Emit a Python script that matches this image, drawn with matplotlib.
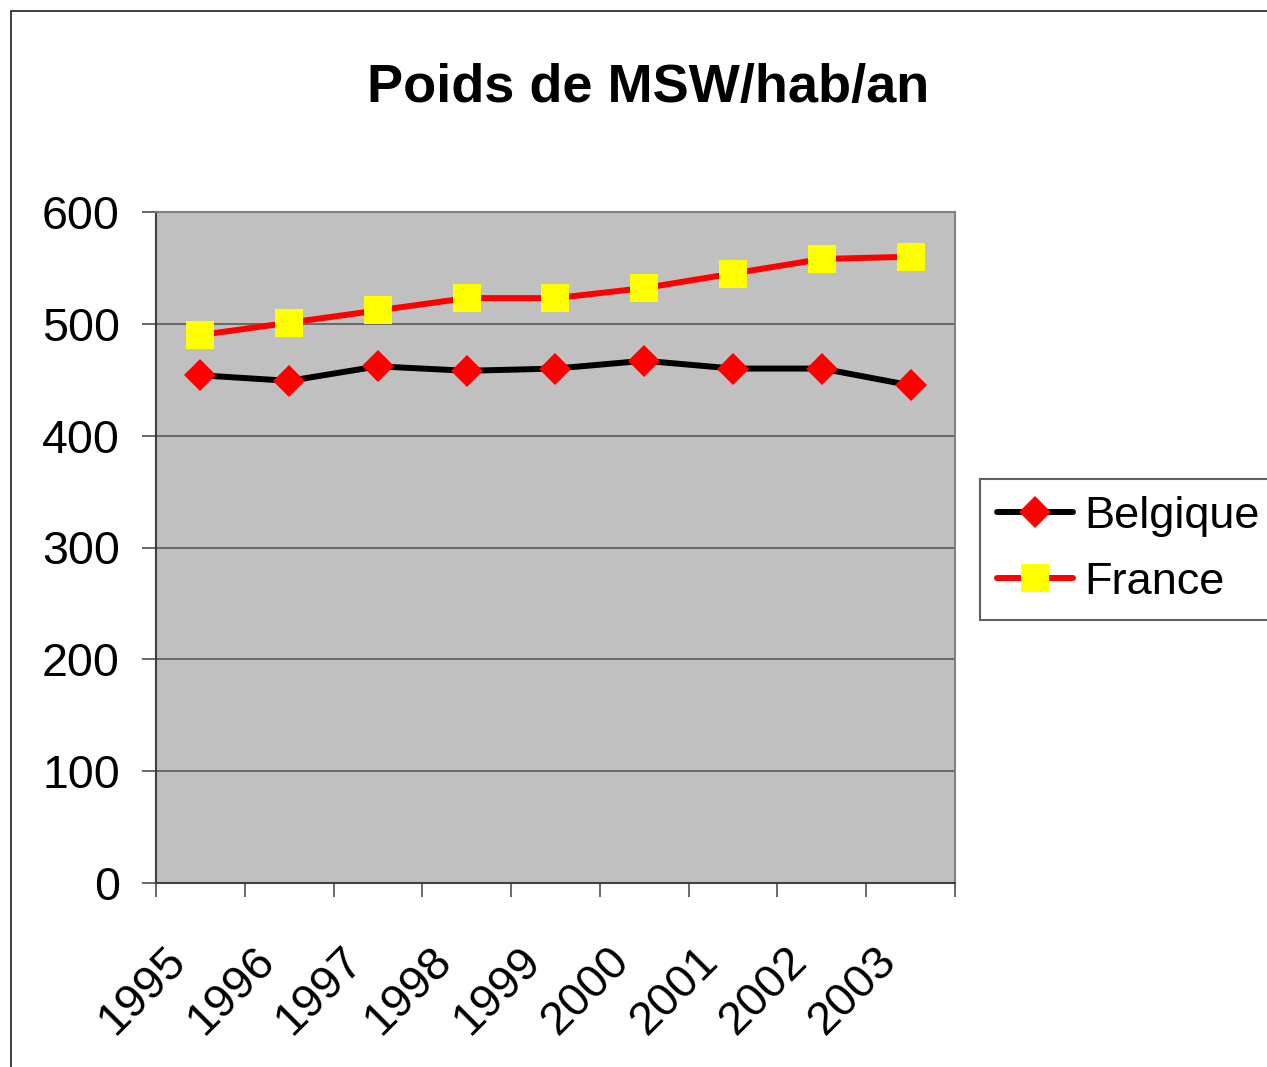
import matplotlib
matplotlib.use("Agg")
import matplotlib.pyplot as plt
import matplotlib.transforms as mtransforms
from matplotlib.patches import Rectangle
import numpy as np

years = ["1995", "1996", "1997", "1998", "1999", "2000", "2001", "2002", "2003"]
belgique = [454, 449, 462, 458, 460, 467, 460, 460, 445]
france = [490, 501, 512, 523, 523, 532, 545, 558, 560]
yticks = [0, 100, 200, 300, 400, 500, 600]
title = "Poids de MSW/hab/an"

plt.rcParams['font.family'] = ['Liberation Sans', 'DejaVu Sans']

W, H = 1267, 1067
fig = plt.figure(figsize=(W / 100, H / 100), dpi=100)
fig.patch.set_facecolor('white')

ax = fig.add_axes([156 / W, (H - 883) / H, (955 - 156) / W, (883 - 212) / H])
ax.set_facecolor('#C0C0C0')

x = np.arange(len(years)) + 0.5
ax.plot(x, belgique, color='black', lw=4.3, marker='D', ms=16.5,
        mfc='#FF0000', mec='#FF0000', mew=0, solid_capstyle='round',
        label='Belgique', zorder=3)
ax.plot(x, france, color='#FF0000', lw=4.3, marker='s', ms=20.5,
        mfc='#FFFF00', mec='#FFFF00', mew=0, solid_capstyle='round',
        label='France', zorder=3)

ax.set_xlim(0, len(years))
ax.set_ylim(0, 600)
ax.set_yticks(yticks)
ax.set_yticklabels([str(v) for v in yticks], fontsize=33.5)
for v in yticks[1:-1]:
    ax.axhline(v, color='#505050', lw=1.1, zorder=1)

ax.set_xticks(np.arange(len(years) + 1))
ax.set_xticklabels([])
ax.set_xticks(x, minor=True)
ax.set_xticklabels(years, minor=True, fontsize=33.5, rotation=45,
                   ha='right', va='top', rotation_mode='anchor')
ax.tick_params(axis='x', which='minor', length=0, pad=40)
ax.tick_params(axis='x', which='major', length=10, width=1.1, color='#404040', direction='out')
ax.tick_params(axis='y', length=10, width=1.1, color='#404040', direction='out', pad=16)

offset = mtransforms.ScaledTranslation(-37 / 100, 0, fig.dpi_scale_trans)
for lab in ax.get_xticklabels(minor=True):
    lab.set_transform(lab.get_transform() + offset)

for side in ['top', 'right']:
    ax.spines[side].set_color('#808080')
    ax.spines[side].set_linewidth(1.5)
for side in ['left', 'bottom']:
    ax.spines[side].set_color('#404040')
    ax.spines[side].set_linewidth(1.5)

fig.text(648 / W, (H - 102) / H, title, fontsize=39, fontweight='bold',
         ha='center', va='baseline')

leg = fig.legend(loc='upper left', bbox_to_anchor=(980 / W, (H - 479) / H),
                 bbox_transform=fig.transFigure, fontsize=32.5, frameon=True,
                 fancybox=False, edgecolor='#606060', handlelength=1.7,
                 handletextpad=0.25, borderpad=0.37, labelspacing=0.56,
                 borderaxespad=0)
leg.get_frame().set_linewidth(1.5)
leg.get_frame().set_alpha(1)

fig.patches.append(Rectangle((11 / W, -0.1), 2, (H - 11) / H + 0.1,
                             transform=fig.transFigure, fill=False,
                             edgecolor='#303030', lw=1.3))

fig.savefig('out.png', dpi=100)
